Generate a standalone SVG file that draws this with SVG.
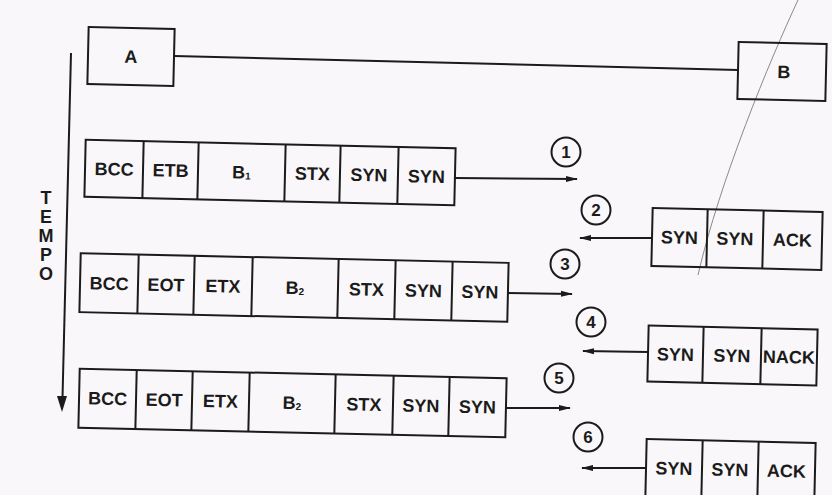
<svg xmlns="http://www.w3.org/2000/svg" width="832" height="495" viewBox="0 0 832 495">
<style>
.bx{fill:none;stroke:#1b1b1b;stroke-width:2}
.dv{stroke:#1b1b1b;stroke-width:2}
.t{font-family:"Liberation Sans",Arial,sans-serif;font-weight:bold;font-size:18px;fill:#1b1b1b;text-anchor:middle}
.n{font-family:"Liberation Sans",Arial,sans-serif;font-weight:bold;font-size:17px;fill:#1b1b1b;text-anchor:middle}
.c{fill:none;stroke:#1b1b1b;stroke-width:2}
.ln{stroke:#1b1b1b;stroke-width:2;fill:none}
</style>
<defs>
<marker id="ah" viewBox="0 0 12 8" refX="11" refY="4" markerWidth="12" markerHeight="8" markerUnits="userSpaceOnUse" orient="auto">
<path d="M0,1 L12,4 L0,7 Z" fill="#1b1b1b"/>
</marker>
</defs>
<rect x="0" y="0" width="832" height="495" fill="#f9f7f9"/>
<path d="M798,0 C770,60 720,180 698,275" fill="none" stroke="#8a8a8a" stroke-width="1"/>

<g id="nodeA" transform="rotate(1.3 131 56.5)">
<rect class="bx" x="88" y="28" width="86" height="57"/>
<text class="t" x="131" y="63">A</text>
</g>
<g id="nodeB" transform="rotate(1.3 782 71.5)">
<rect class="bx" x="738" y="43" width="88" height="57"/>
<text class="t" x="784" y="78">B</text>
</g>

<g id="axis">
<line class="ln" x1="71" y1="53" x2="62.5" y2="398"/>
<path d="M57,396 L62,412 L67,396 Z" fill="#1b1b1b"/>
<text class="t" font-size="17" x="46" y="204">T<tspan x="46" dy="19">E</tspan><tspan x="46" dy="19">M</tspan><tspan x="46" dy="19">P</tspan><tspan x="46" dy="19">O</tspan></text>
</g>

<g id="frame1" transform="rotate(1.3 270 172.5)">
<rect class="bx" x="85" y="144" width="370" height="57"/>
<line class="dv" x1="143" y1="144" x2="143" y2="201"/>
<line class="dv" x1="198" y1="144" x2="198" y2="201"/>
<line class="dv" x1="285" y1="144" x2="285" y2="201"/>
<line class="dv" x1="340" y1="144" x2="340" y2="201"/>
<line class="dv" x1="398" y1="144" x2="398" y2="201"/>
<text class="t" x="114" y="179">BCC</text>
<text class="t" x="170.5" y="179">ETB</text>
<text class="t" x="241.5" y="179">B<tspan font-size="10" dy="1">1</tspan></text>
<text class="t" x="312.5" y="179">STX</text>
<text class="t" x="369" y="179">SYN</text>
<text class="t" x="426.5" y="179">SYN</text>
</g>

<g id="frame2" transform="rotate(1.3 737 239)">
<rect class="bx" x="652" y="210" width="170" height="58"/>
<line class="dv" x1="707" y1="210" x2="707" y2="268"/>
<line class="dv" x1="763" y1="210" x2="763" y2="268"/>
<text class="t" x="679.5" y="245">SYN</text>
<text class="t" x="735" y="245">SYN</text>
<text class="t" x="792.5" y="245">ACK</text>
</g>

<g id="frame3" transform="rotate(1.3 294 287.5)">
<rect class="bx" x="80" y="258" width="428" height="59"/>
<line class="dv" x1="138" y1="258" x2="138" y2="317"/>
<line class="dv" x1="194" y1="258" x2="194" y2="317"/>
<line class="dv" x1="252" y1="258" x2="252" y2="317"/>
<line class="dv" x1="338" y1="258" x2="338" y2="317"/>
<line class="dv" x1="395" y1="258" x2="395" y2="317"/>
<line class="dv" x1="452" y1="258" x2="452" y2="317"/>
<text class="t" x="109" y="294">BCC</text>
<text class="t" x="166" y="294">EOT</text>
<text class="t" x="223" y="294">ETX</text>
<text class="t" x="295" y="294">B<tspan font-size="10" dy="1">2</tspan></text>
<text class="t" x="366.5" y="294">STX</text>
<text class="t" x="423.5" y="294">SYN</text>
<text class="t" x="480" y="294">SYN</text>
</g>

<g id="frame4" transform="rotate(1.3 732.5 355.5)">
<rect class="bx" x="648" y="327.5" width="169" height="56"/>
<line class="dv" x1="703" y1="327.5" x2="703" y2="383.5"/>
<line class="dv" x1="761" y1="327.5" x2="761" y2="383.5"/>
<text class="t" x="675.5" y="362">SYN</text>
<text class="t" x="732" y="362">SYN</text>
<text class="t" x="789" y="362">NACK</text>
</g>

<g id="frame5" transform="rotate(1.3 292.5 403)">
<rect class="bx" x="79" y="373.5" width="427" height="59"/>
<line class="dv" x1="136" y1="373.5" x2="136" y2="432.5"/>
<line class="dv" x1="192" y1="373.5" x2="192" y2="432.5"/>
<line class="dv" x1="249" y1="373.5" x2="249" y2="432.5"/>
<line class="dv" x1="335" y1="373.5" x2="335" y2="432.5"/>
<line class="dv" x1="393" y1="373.5" x2="393" y2="432.5"/>
<line class="dv" x1="449" y1="373.5" x2="449" y2="432.5"/>
<text class="t" x="107.5" y="409">BCC</text>
<text class="t" x="164" y="409">EOT</text>
<text class="t" x="220.5" y="409">ETX</text>
<text class="t" x="292" y="409">B<tspan font-size="10" dy="1">2</tspan></text>
<text class="t" x="364" y="409">STX</text>
<text class="t" x="421" y="409">SYN</text>
<text class="t" x="477.5" y="409">SYN</text>
</g>

<g id="frame6" transform="rotate(1.3 730.5 470)">
<rect class="bx" x="646" y="441" width="169" height="58"/>
<line class="dv" x1="702" y1="441" x2="702" y2="499"/>
<line class="dv" x1="758" y1="441" x2="758" y2="499"/>
<text class="t" x="674" y="476">SYN</text>
<text class="t" x="730" y="476">SYN</text>
<text class="t" x="786.5" y="476">ACK</text>
</g>

<g id="steps">
<circle class="c" cx="566" cy="152" r="14.5"/><text class="n" x="566" y="158">1</text>
<circle class="c" cx="596" cy="210" r="14.5"/><text class="n" x="596" y="216">2</text>
<circle class="c" cx="565" cy="264" r="14.5"/><text class="n" x="565" y="270">3</text>
<circle class="c" cx="591" cy="322" r="14.5"/><text class="n" x="591" y="328">4</text>
<circle class="c" cx="559" cy="378" r="14.5"/><text class="n" x="559" y="384">5</text>
<circle class="c" cx="588" cy="437" r="14.5"/><text class="n" x="588" y="443">6</text>
</g>

<g id="connectors">
<line class="ln" x1="174" y1="56" x2="738" y2="70"/>
<line class="ln" x1="455" y1="178" x2="577" y2="179" marker-end="url(#ah)"/>
<line class="ln" x1="652" y1="238" x2="580" y2="238" marker-end="url(#ah)"/>
<line class="ln" x1="508" y1="293" x2="572" y2="294" marker-end="url(#ah)"/>
<line class="ln" x1="648" y1="352" x2="583" y2="351" marker-end="url(#ah)"/>
<line class="ln" x1="506" y1="408" x2="570" y2="408" marker-end="url(#ah)"/>
<line class="ln" x1="646" y1="468" x2="582" y2="468" marker-end="url(#ah)"/>
</g>
</svg>
